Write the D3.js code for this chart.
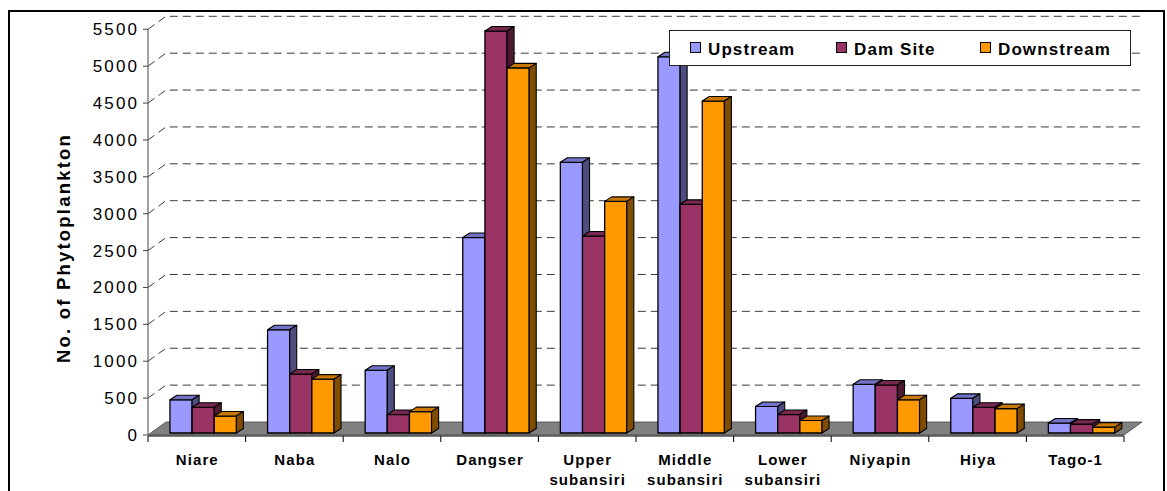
<!DOCTYPE html>
<html><head><meta charset="utf-8">
<script src="https://cdn.jsdelivr.net/npm/d3@7"></script>
<style>
html,body{margin:0;padding:0;background:#fff;}
text{font-family:"Liberation Sans",Arial,sans-serif;}
</style></head>
<body><svg id="c" width="1167" height="491"></svg>
<script>
const categories = ["Niare","Naba","Nalo","Dangser","Upper subansiri","Middle subansiri","Lower subansiri","Niyapin","Hiya","Tago-1"];
const seriesNames = ["Upstream","Dam Site","Downstream"];
const upstream   = [450,1400,850,2650,3670,5100,360,660,470,135];
const damSite    = [350,800,250,5450,2670,3100,250,650,350,120];
const downstream = [230,730,290,4950,3140,4500,170,450,330,80];
const yTicks = [0,500,1000,1500,2000,2500,3000,3500,4000,4500,5000,5500];
const yTitle = "No. of Phytoplankton";

const seriesValues = [upstream, damSite, downstream];
const fronts = ["#9999FF","#993366","#FF9900"];
const tops   = ["#7373C6","#76284F","#C87800"];
const sides  = ["#4D4D80","#4D1A33","#804D00"];

const svg = d3.select("#c");
svg.append("rect").attr("x",9).attr("y",11).attr("width",1155).attr("height",495)
  .attr("fill","none").attr("stroke","#000").attr("stroke-width",2);

const x0 = d3.scaleBand().domain(categories).range([148,1124]).padding(0);
const bw = x0.bandwidth();
const x1 = d3.scaleBand().domain(seriesNames).range([bw*0.225, bw*0.225 + 3*bw*0.227]).padding(0);
const yAxisScale = d3.scaleLinear().domain([0,5500]).range([435, 29.3]);
const yBar = d3.scaleLinear().domain([0,5500]).range([433, 27.3]);
const FDX = 18, FDY = -13;
const BDX = 7, BDY = -4.5;
const xL = x0.range()[0], xR = x0.range()[1];

const grid = svg.append("g");
yTicks.forEach(t => {
  if (t === 0) return;
  const y = yAxisScale(t);
  grid.append("path")
    .attr("d", `M${xL},${y} L${xL+FDX},${y+FDY} L${xR+FDX},${y+FDY}`)
    .attr("fill","none").attr("stroke","#3a3a3a").attr("stroke-width",1)
    .attr("stroke-dasharray","8,5");
});

const y0 = yAxisScale(0);
svg.append("path")
  .attr("d", `M${xL},${y0} L${xR},${y0} L${xR+FDX},${y0+FDY} L${xL+FDX},${y0+FDY} Z`)
  .attr("fill","#808080").attr("stroke","#444").attr("stroke-width",0.8);

svg.append("line").attr("x1",xL).attr("x2",xL).attr("y1",yAxisScale(5500)).attr("y2",y0)
  .attr("stroke","#666").attr("stroke-width",1.2);
const yt = svg.append("g");
yTicks.forEach(t => {
  const y = yAxisScale(t);
  yt.append("line").attr("x1",xL-5).attr("x2",xL).attr("y1",y).attr("y2",y).attr("stroke","#444");
  yt.append("text").attr("x",139).attr("y",y+6).attr("text-anchor","end")
    .attr("font-size",17).attr("letter-spacing","2.1px").attr("fill","#000").text(t);
});

const bars = svg.append("g");
categories.forEach((c, ci) => {
  seriesNames.forEach((s, si) => {
    const v = seriesValues[si][ci];
    const xa = x0(c) + x1(s), xb = xa + x1.bandwidth();
    const yb = yBar(0), ytop = yBar(v);
    bars.append("path").attr("d",`M${xa},${yb} L${xa},${ytop} L${xb},${ytop} L${xb},${yb} Z`)
      .attr("fill",fronts[si]).attr("stroke","#000").attr("stroke-width",1.3).attr("stroke-linejoin","round");
    bars.append("path").attr("d",`M${xa},${ytop} L${xa+BDX},${ytop+BDY} L${xb+BDX},${ytop+BDY} L${xb},${ytop} Z`)
      .attr("fill",tops[si]).attr("stroke","#000").attr("stroke-width",1.1).attr("stroke-linejoin","round");
    bars.append("path").attr("d",`M${xb},${yb} L${xb},${ytop} L${xb+BDX},${ytop+BDY} L${xb+BDX},${yb+BDY} Z`)
      .attr("fill",sides[si]).attr("stroke","#000").attr("stroke-width",1.1).attr("stroke-linejoin","round");
  });
});

svg.append("line").attr("x1",xL).attr("x2",xR).attr("y1",y0+1).attr("y2",y0+1).attr("stroke","#000").attr("stroke-width",1.2);
const xt = svg.append("g");
[...categories.map(c => x0(c)), xR].forEach(xx => {
  xt.append("line").attr("x1",xx).attr("x2",xx).attr("y1",y0+1).attr("y2",y0+7).attr("stroke","#000");
});
categories.forEach(c => {
  const lines = c.split(" ");
  const t = xt.append("text").attr("text-anchor","middle").attr("font-size",15)
    .attr("font-weight","bold").attr("letter-spacing","1.1px").attr("fill","#000");
  lines.forEach((ln, i) => {
    t.append("tspan").attr("x", x0(c) + bw/2 + 0.5).attr("y", 465 + i*20).text(ln);
  });
});

svg.append("text").attr("transform","translate(70,248) rotate(-90)")
  .attr("text-anchor","middle").attr("font-size",18.5).attr("font-weight","bold")
  .attr("letter-spacing","2.2px").attr("fill","#000").text(yTitle);

const lg = svg.append("g");
lg.append("rect").attr("x",669.5).attr("y",30.5).attr("width",461).attr("height",35)
  .attr("fill","#fff").attr("stroke","#222").attr("stroke-width",1);
const legX = [690, 836, 980];
seriesNames.forEach((s, i) => {
  lg.append("rect").attr("x",legX[i]+0.5).attr("y",42.5).attr("width",10).attr("height",10)
    .attr("fill",fronts[i]).attr("stroke","#000").attr("stroke-width",1);
  lg.append("text").attr("x",legX[i]+18).attr("y",54.5).attr("font-size",17)
    .attr("font-weight","bold").attr("letter-spacing","1.1px").attr("fill","#000").text(s);
});
</script></body></html>
